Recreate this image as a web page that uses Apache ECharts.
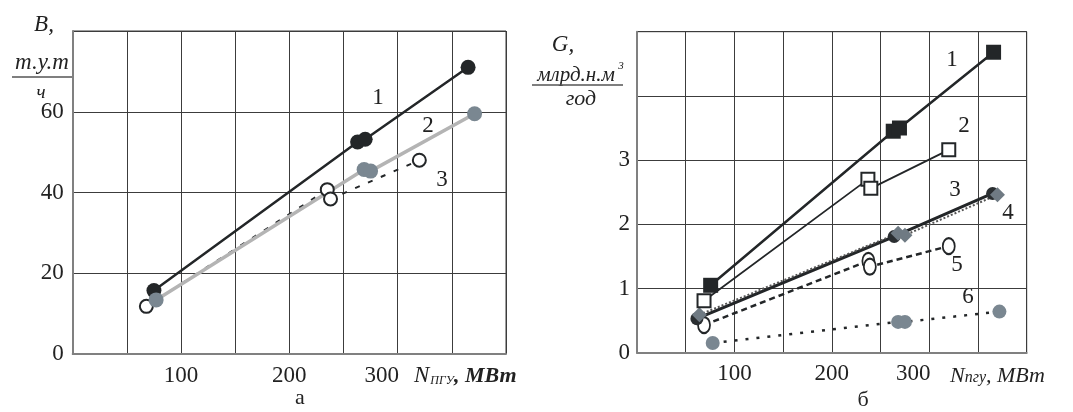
<!DOCTYPE html>
<html>
<head>
<meta charset="utf-8">
<script src="https://cdn.jsdelivr.net/npm/echarts@6/dist/echarts.min.js"></script>
<style>
html,body{margin:0;padding:0;background:#fff;}
#c{width:1073px;height:412px;}
</style>
</head>
<body>
<div id="c"></div>
<script>
// ---- Data ----
// Chart "а": B, т.у.т/ч  vs  N_ПГУ, МВт
const aSeries1 = [[75, 15.7], [263, 52.5], [270, 53.2], [365, 71.0]];
const aSeries2 = [[77, 13.4], [269, 45.7], [275, 45.3], [371, 59.5]];
const aSeries3 = [[68, 11.8], [235, 40.7], [238, 38.4], [320, 48.0]];
// Chart "б": G, млрд.н.м³/год  vs  N_ПГУ, МВт
const bSeries1 = [[75.6, 1.05], [263, 3.45], [269.4, 3.50], [366, 4.68]];
const bSeries2 = [[68.8, 0.81], [237, 2.70], [240, 2.56], [320, 3.16]];
const bSeries3 = [[61.5, 0.53], [264, 1.81], [365, 2.48]];
const bSeries4 = [[64, 0.59], [268, 1.86], [275, 1.83], [370, 2.46]];
const bSeries5 = [[68.8, 0.43], [237.5, 1.43], [239, 1.34], [320, 1.66]];
const bSeries6 = [[77.7, 0.15], [268, 0.48], [275, 0.48], [372, 0.64]];

const xTickLabels = [100, 200, 300];
const aYTickLabels = [0, 20, 40, 60];
const bYTickLabels = [0, 1, 2, 3];

const FONT = 'Liberation Serif';
const DARK = '#232628';
const GRIDC = '#3c3c3c';

function xAxisCfg(idx){
  return {
    type:'value', gridIndex:idx, min:0, max:400, interval:50,
    axisLine:{show:true, lineStyle:{color:'#808080', width:2}},
    axisTick:{show:false},
    splitLine:{show:true, lineStyle:{color:GRIDC, width:1}},
    axisLabel:{
      margin:10, fontFamily:FONT, fontSize:23, color:'#222',
      formatter:function(v){
        if (v === 300) return '{s|300}';
        return xTickLabels.indexOf(v) >= 0 ? String(v) : '';
      },
      rich:{s:{fontFamily:FONT, fontSize:23, color:'#222', padding:[0,32,0,0]}}
    }
  };
}
function yAxisCfg(idx, max, interval, labels, margin){
  return {
    type:'value', gridIndex:idx, min:0, max:max, interval:interval,
    axisLine:{show:true, lineStyle:{color:'#808080', width:2}},
    axisTick:{show:false},
    splitLine:{show:true, lineStyle:{color:GRIDC, width:1}},
    axisLabel:{
      margin:margin, fontFamily:FONT, fontSize:23, color:'#222',
      formatter:function(v){ return labels.indexOf(v) >= 0 ? String(v) : ''; }
    }
  };
}

const txt = (x, y, text, extra) => Object.assign({
  type:'text', x:x, y:y,
  style:Object.assign({text:text, font:'23px "Liberation Serif"', fill:'#222', align:'center', verticalAlign:'middle'}, extra||{})
});

const chart = echarts.init(document.getElementById('c'), null, {renderer:'canvas'});
chart.setOption({
  backgroundColor:'#fff',
  animation:false,
  grid:[
    {left:72.7, top:31, width:433.3, height:323, show:true, borderColor:GRIDC, borderWidth:1},
    {left:637, top:31.7, width:389.7, height:321, show:true, borderColor:GRIDC, borderWidth:1}
  ],
  xAxis:[xAxisCfg(0), xAxisCfg(1)],
  yAxis:[yAxisCfg(0, 80, 20, aYTickLabels, 9), yAxisCfg(1, 5, 1, bYTickLabels, 7)],
  series:[
    {type:'line', xAxisIndex:0, yAxisIndex:0, data:aSeries1, symbol:'circle', symbolSize:15,
     lineStyle:{color:DARK, width:2.5}, itemStyle:{color:DARK}},
    {type:'line', xAxisIndex:0, yAxisIndex:0, data:aSeries3, symbol:'emptyCircle', symbolSize:13,
     lineStyle:{color:DARK, width:2, type:[5,9]}, itemStyle:{color:DARK, borderColor:DARK, borderWidth:1}},
    {type:'line', xAxisIndex:0, yAxisIndex:0, data:aSeries2, symbol:'circle', symbolSize:15,
     lineStyle:{color:'#b4b4b4', width:3.5}, itemStyle:{color:'#7a8791'}},

    {type:'line', xAxisIndex:1, yAxisIndex:1, data:bSeries6, symbol:'circle', symbolSize:14,
     lineStyle:{color:DARK, width:2.5, type:[3,8]}, itemStyle:{color:'#7a8791'}},
    {type:'line', xAxisIndex:1, yAxisIndex:1, data:bSeries5, symbol:'emptyCircle', symbolSize:[12,16],
     lineStyle:{color:DARK, width:2.5, type:[6,4]}, itemStyle:{color:DARK, borderColor:DARK, borderWidth:1}},
    {type:'line', xAxisIndex:1, yAxisIndex:1, data:bSeries3, symbol:'circle', symbolSize:13,
     lineStyle:{color:DARK, width:3}, itemStyle:{color:'#2a2e31'}},
    {type:'line', xAxisIndex:1, yAxisIndex:1, data:bSeries4, symbol:'diamond', symbolSize:15,
     lineStyle:{color:'#555', width:2, type:[2,2]}, itemStyle:{color:'#6f7a83'}},
    {type:'line', xAxisIndex:1, yAxisIndex:1, data:bSeries2, symbol:'emptyRect', symbolSize:13,
     lineStyle:{color:DARK, width:1.8}, itemStyle:{color:DARK, borderColor:DARK, borderWidth:1}},
    {type:'line', xAxisIndex:1, yAxisIndex:1, data:bSeries1, symbol:'rect', symbolSize:15,
     lineStyle:{color:DARK, width:2.5}, itemStyle:{color:DARK}}
  ],
  graphic:[
    // left axis title
    txt(44, 25, 'B,', {font:'italic 23px "Liberation Serif"'}),
    txt(42, 63, 'т.у.т', {font:'italic 23px "Liberation Serif"'}),
    {type:'line', shape:{x1:12, y1:77, x2:72, y2:77}, style:{stroke:'#555', lineWidth:1.5}},
    txt(41, 93, 'ч', {font:'italic 19px "Liberation Serif"'}),
    // right axis title
    txt(563, 45, 'G,', {font:'italic 23px "Liberation Serif"'}),
    txt(576, 75, 'млрд.н.м', {font:'italic 21px "Liberation Serif"'}),
    txt(621, 66, '3', {font:'italic 11px "Liberation Serif"'}),
    {type:'line', shape:{x1:532, y1:85, x2:623, y2:85}, style:{stroke:'#555', lineWidth:1.5}},
    txt(581, 99, 'год', {font:'italic 22px "Liberation Serif"'}),
    // x-axis names
    {type:'text', x:414, y:376, style:{
      text:'{n|N}{s|ПГУ}{b|, МВт}', verticalAlign:'middle', align:'left',
      rich:{
        n:{font:'italic 23px "Liberation Serif"', fill:'#222'},
        s:{font:'italic 12px "Liberation Serif"', fill:'#222', padding:[10,0,0,1]},
        b:{font:'bold italic 22px "Liberation Serif"', fill:'#222'}
      }}},
    {type:'text', x:950, y:376, style:{
      text:'{n|N}{s|пгу}{b|, МВт}', verticalAlign:'middle', align:'left',
      rich:{
        n:{font:'italic 22px "Liberation Serif"', fill:'#222'},
        s:{font:'italic 16px "Liberation Serif"', fill:'#222', padding:[3,0,0,0]},
        b:{font:'italic 22px "Liberation Serif"', fill:'#222'}
      }}},
    // subplot captions
    txt(300, 398, 'а', {font:'22px "Liberation Serif"'}),
    txt(863, 400, 'б', {font:'22px "Liberation Serif"'}),
    // series numbers, chart а
    txt(378, 98, '1'), txt(428, 126, '2'), txt(442, 180, '3'),
    // series numbers, chart б
    txt(952, 60, '1'), txt(964, 126, '2'), txt(955, 190, '3'),
    txt(1008, 213, '4'), txt(957, 265, '5'), txt(968, 297, '6')
  ]
});
</script>
</body>
</html>
